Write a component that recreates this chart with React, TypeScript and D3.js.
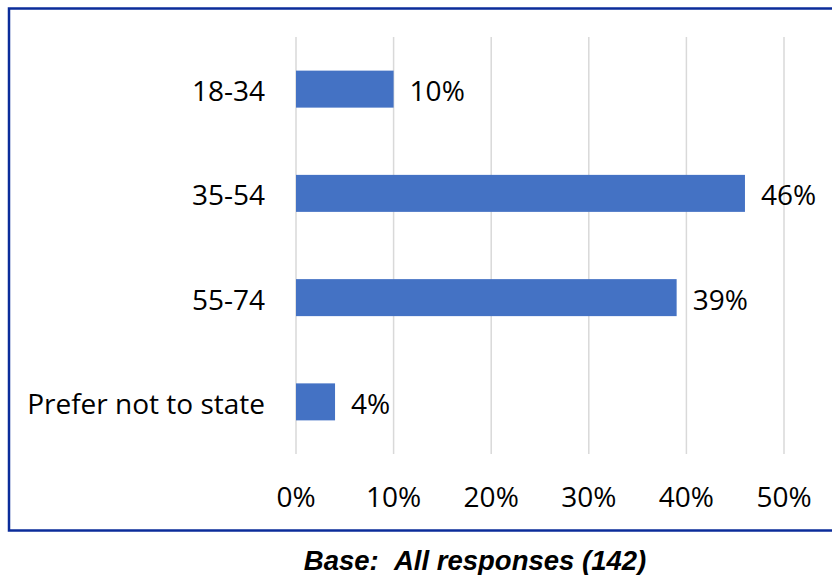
import React from "react";
import * as d3 from "d3";

// Age bands and share of respondents (%)
const categories: string[] = ["18-34", "35-54", "55-74", "Prefer not to state"];
const shares: number[] = [10, 46, 39, 4];
const tickValues: number[] = [0, 10, 20, 30, 40, 50];
const baseNote = "Base:\u00a0\u00a0All responses (142)";

const W = 832;
const H = 575;
const plot = { left: 296, right: 784, top: 37, bottom: 454 };
const labelFont = "'Open Sans', 'Noto Sans', sans-serif";
const labelSize = 28;

export default function App() {
  const x = d3.scaleLinear().domain([0, 50]).range([plot.left, plot.right]);
  const y = d3
    .scaleBand<string>()
    .domain(categories)
    .range([plot.top, plot.bottom])
    .paddingInner(0.645)
    .paddingOuter(0.3225);

  return (
    <svg
      width={W}
      height={H}
      style={{ position: "absolute", left: 0, top: 0, display: "block", background: "#fff" }}
    >
      <rect x={9} y={8.5} width={W + 20} height={522} fill="#fff" stroke="#0B2C9A" strokeWidth={2.5} />

      {tickValues.map((t) => (
        <g key={t}>
          <line x1={x(t)} x2={x(t)} y1={plot.top} y2={plot.bottom} stroke="#d9d9d9" strokeWidth={1.5} />
          <text
            x={x(t)}
            y={496}
            textAnchor="middle"
            dominantBaseline="central"
            fontFamily={labelFont}
            fontSize={labelSize}
            fill="#000"
          >
            {t}%
          </text>
        </g>
      ))}

      {categories.map((c, i) => {
        const yc = (y(c) ?? 0) + y.bandwidth() / 2;
        return (
          <g key={c}>
            <rect
              x={x(0)}
              y={y(c)}
              width={x(shares[i]) - x(0)}
              height={y.bandwidth()}
              fill="#4472C4"
            />
            <text
              x={265}
              y={yc + 1}
              textAnchor="end"
              dominantBaseline="central"
              fontFamily={labelFont}
              fontSize={labelSize}
              fill="#000"
            >
              {c}
            </text>
            <text
              x={x(shares[i]) + 16}
              y={yc + 1}
              dominantBaseline="central"
              fontFamily={labelFont}
              fontSize={labelSize}
              fill="#000"
            >
              {shares[i]}%
            </text>
          </g>
        );
      })}

      <text
        x={475}
        y={560}
        textAnchor="middle"
        dominantBaseline="central"
        fontFamily="'Liberation Sans', Arial, sans-serif"
        fontWeight="bold"
        fontStyle="italic"
        fontSize={27.5}
        fill="#000"
      >
        {baseNote}
      </text>
    </svg>
  );
}
